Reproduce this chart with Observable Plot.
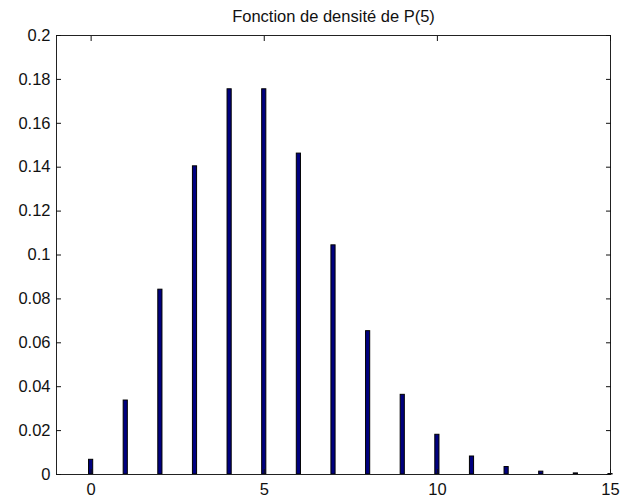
<!DOCTYPE html>
<html><head><meta charset="utf-8">
<script src="https://cdn.jsdelivr.net/npm/d3@7"></script>
<script src="https://cdn.jsdelivr.net/npm/@observablehq/plot@0.6"></script>
<style>body{margin:0;background:#fff}</style>
</head><body><div id="chart"></div>
<script>
const ks = [0,1,2,3,4,5,6,7,8,9,10,11,12,13,14,15];
const probs = [0.0067,0.0337,0.0842,0.1404,0.1755,0.1755,0.1462,0.1044,0.0653,0.0363,0.0181,0.0082,0.0034,0.0013,0.0005,0.0002];
const xTicks = [0,5,10,15];
const yTicks = [0,0.02,0.04,0.06,0.08,0.1,0.12,0.14,0.16,0.18,0.2];
const title = "Fonction de densité de P(5)";
const halfWidth = 0.06;
const data = ks.map((k,i)=>({k, p: probs[i]}));

const chart = Plot.plot({
  width: 621, height: 499,
  marginLeft: 56, marginRight: 11, marginTop: 35, marginBottom: 25,
  style: {fontFamily: "Liberation Sans, Arial, sans-serif", fontSize: "16.5px", color: "#111", background: "#fff"},
  x: {domain: [-1, 15]},
  y: {domain: [0, 0.2]},
  marks: [
    Plot.rectY(data, {x1: d => d.k - halfWidth, x2: d => d.k + halfWidth, y: "p", fill: "#00007f", stroke: "#000", strokeWidth: 1}),
    Plot.frame({stroke: "#222"}),
    Plot.axisX({ticks: xTicks, tickSize: -5, tickPadding: 14, label: null, tickFormat: d => String(d), fontSize: 16.5}),
    Plot.axisX({anchor: "top", ticks: xTicks, tickSize: -5, tickFormat: () => "", label: null}),
    Plot.axisY({ticks: yTicks, tickSize: -5, tickPadding: 11, label: null, tickFormat: d => String(+d.toFixed(2)), fontSize: 16.5}),
    Plot.axisY({anchor: "right", ticks: yTicks, tickSize: -5, tickFormat: () => "", label: null}),
    Plot.text([title], {frameAnchor: "top", dy: -14, lineAnchor: "bottom", text: d => d, fontSize: 16.5})
  ]
});
document.getElementById("chart").appendChild(chart);
</script>
</body></html>
